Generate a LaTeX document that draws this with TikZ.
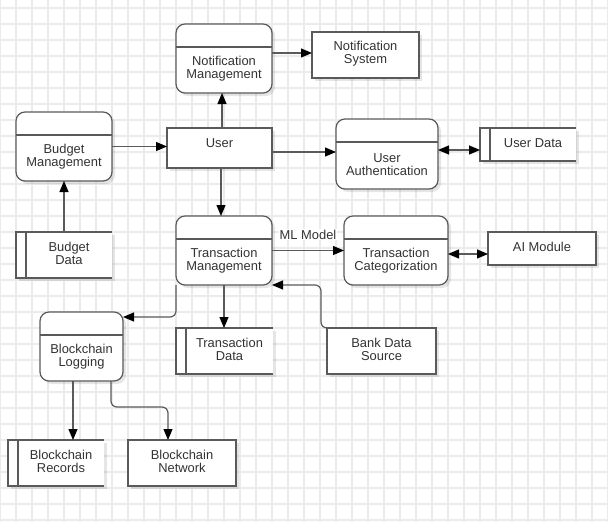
\documentclass[tikz,border=0pt]{standalone}
\usepackage{fontspec}
\setmainfont{Liberation Sans}
\usetikzlibrary{arrows.meta,shadows}
\definecolor{edgec}{HTML}{5A5A5A}
\definecolor{txtc}{HTML}{333333}
\definecolor{gridc}{HTML}{EBEBEB}
\tikzset{
 conn/.style={draw=edgec, line width=1.2pt},
 shad/.style={drop shadow={shadow xshift=3pt, shadow yshift=-3pt, fill=black, opacity=0.1}},
 procbox/.style={rectangle, draw=edgec, line width=1.2pt, fill=white, rounded corners=9pt, inner sep=0pt, outer sep=0pt, shad},
 rectbox/.style={rectangle, draw=edgec, line width=1.2pt, fill=white, inner sep=0pt, outer sep=0pt, shad},
 storebox/.style={rectangle, draw=none, fill=white, inner sep=0pt, outer sep=0pt, shad},
 txt/.style={text=txtc, align=center, inner sep=0pt, font=\fontsize{12.9}{13}\selectfont},
 arr/.style={conn, -{Triangle[length=11pt,width=9pt,color=black]}},
 darr/.style={conn, {Triangle[length=11pt,width=9pt,color=black]}-{Triangle[length=11pt,width=9pt,color=black]}},
 lbl/.style={txt, fill=white, inner sep=1pt},
 gridline/.style={draw=gridc, line width=1.2pt},
}
\newcommand\mkproc[6]{%
 \node[procbox, minimum width={#4-#2}, minimum height={#5-#3}] (#1) at ({(#2+#4)/2},{(#3+#5)/2}) {};
 \draw[conn] (#2,#3+23) -- (#4,#3+23);
 \node[txt] (#1t) at ({(#2+#4)/2},{(#3+23+#5)/2-1}) {#6};}
\newcommand\mkstore[6]{%
 \node[storebox, minimum width={#4-#2}, minimum height={#5-#3}] (#1) at ({(#2+#4)/2},{(#3+#5)/2}) {};
 \draw[conn] (#4,#3) -- (#2,#3) -- (#2,#5) -- (#4,#5);
 \draw[conn] (#2+10,#3) -- (#2+10,#5);
 \node[txt] (#1t) at ({(#2+10+#4)/2},{(#3+#5)/2-1.5}) {#6};}
\newcommand\mkrect[7]{%
 \node[rectbox, minimum width={#4-#2}, minimum height={#5-#3}] (#1) at ({(#2+#4)/2},{(#3+#5)/2}) {};
 \node[txt] (#1t) at ({(#2+#4)/2},{(#3+#5)/2-#7}) {#6};}
\begin{document}
\begin{tikzpicture}[x=1pt,y=-1pt]
\useasboundingbox (0,0) rectangle (608,522);
\fill[white] (0,0) rectangle (608,522);
\foreach \i in {0,16,...,608} \draw[gridline] (\i,0) -- (\i,522);
\foreach \j in {8,24,...,520} \draw[gridline] (0,\j) -- (608,\j);

% boxes
\mkproc{nm}{176}{24}{272}{93}{Notification\\Management}
\mkrect{ns}{312}{32}{419}{78}{Notification\\System}{1.5}
\mkrect{user}{167}{128}{272}{168}{User}{5}
\mkproc{bm}{16}{112}{112}{181}{Budget\\Management}
\mkproc{ua}{336}{119}{438}{189}{User\\Authentication}
\mkstore{ud}{480}{128}{576}{161}{User Data}
\mkstore{bd}{16}{232}{112}{278}{Budget\\Data}
\mkproc{tm}{176}{216}{272}{285}{Transaction\\Management}
\mkproc{tc}{344}{216}{448}{285}{Transaction\\Categorization}
\mkrect{ai}{488}{232}{596}{265}{AI Module}{1.5}
\mkrect{bds}{327}{328}{436}{374}{Bank Data\\Source}{1.5}
\mkproc{bl}{40}{312}{123}{381}{Blockchain\\Logging}
\mkstore{td}{176}{328}{273}{374}{Transaction\\Data}
\mkstore{br}{8}{440}{104}{486}{Blockchain\\Records}
\mkrect{bn}{128}{440}{236}{486}{Blockchain\\Network}{1.5}

% helper coordinates
\coordinate (cx) at (222,0);
\coordinate (cx2) at (221,0);
\coordinate (c2) at (0,53);
\coordinate (c4) at (0,152);
\coordinate (c5) at (0,150);
\coordinate (c9) at (0,254);
\coordinate (c10) at (321,0);
\coordinate (c11) at (0,317);
\coordinate (c13) at (73,0);
\coordinate (c14a) at (111,407);
\coordinate (c14b) at (168,0);

% connectors
\draw[arr] (user.north -| cx) -- (nm.south -| cx);
\draw[arr] (nm.east |- c2) -- (ns.west |- c2);
\draw[arr] (bm.east) -- (bm.east -| user.west);
\draw[arr] (user.east |- c4) -- (ua.west |- c4);
\draw[darr] (ua.east |- c5) -- (ud.west |- c5);
\draw[arr] (bd.north) -- (bd.north |- bm.south);
\draw[arr] (user.south -| cx2) -- (tm.north -| cx2);
\draw[arr] (tm.east) -- node[lbl, yshift=16pt] (mllbl) {ML Model} (tc.west);
\draw[darr] (tc.east |- c9) -- (ai.west |- c9);
\draw[arr, rounded corners=6pt] (bds.north west) -- (bds.north west -| c10) -- (c10 |- tm.south east) -- (tm.south east);
\draw[arr, rounded corners=6pt] (tm.south west) -- (tm.south west |- c11) -- (bl.east |- c11);
\draw[arr] (tm.south) -- (tm.south |- td.north);
\draw[arr] (bl.south -| c13) -- (br.north -| c13);
\draw[arr, rounded corners=6pt] (bl.south -| c14a) -- (c14a) -- (c14a -| c14b) -- (bn.north -| c14b);
\end{tikzpicture}
\end{document}
